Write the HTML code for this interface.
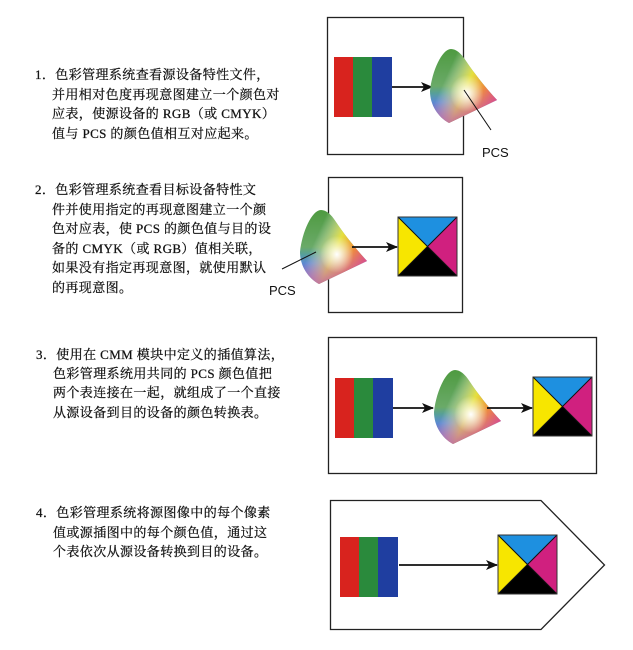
<!DOCTYPE html>
<html><head><meta charset="utf-8"><style>
body{margin:0;width:633px;height:650px;background:#fff;position:relative;overflow:hidden}
.t{position:absolute;font-family:"Liberation Serif","Noto Serif CJK SC",serif;font-size:13px;line-height:16px;color:#111;white-space:nowrap;letter-spacing:0.4px;-webkit-text-stroke:0.25px #111}
svg{position:absolute;left:0;top:0}
</style></head><body>
<div class="t" style="left:35px;top:67px">1．色彩管理系统查看源设备特性文件，</div>
<div class="t" style="left:52px;top:87px">并用相对色度再现意图建立一个颜色对</div>
<div class="t" style="left:52px;top:106px">应表，使源设备的 RGB（或 CMYK）</div>
<div class="t" style="left:52px;top:126px">值与 PCS 的颜色值相互对应起来。</div>

<div class="t" style="left:35px;top:182px">2．色彩管理系统查看目标设备特性文</div>
<div class="t" style="left:52px;top:202px">件并使用指定的再现意图建立一个颜</div>
<div class="t" style="left:52px;top:221px">色对应表，使 PCS 的颜色值与目的设</div>
<div class="t" style="left:52px;top:241px">备的 CMYK（或 RGB）值相关联，</div>
<div class="t" style="left:52px;top:260px">如果没有指定再现意图，就使用默认</div>
<div class="t" style="left:52px;top:280px">的再现意图。</div>

<div class="t" style="left:36px;top:347px">3．使用在 CMM 模块中定义的插值算法，</div>
<div class="t" style="left:53px;top:366px">色彩管理系统用共同的 PCS 颜色值把</div>
<div class="t" style="left:53px;top:385px">两个表连接在一起，就组成了一个直接</div>
<div class="t" style="left:53px;top:405px">从源设备到目的设备的颜色转换表。</div>

<div class="t" style="left:36px;top:505px">4．色彩管理系统将源图像中的每个像素</div>
<div class="t" style="left:53px;top:525px">值或源插图中的每个颜色值，通过这</div>
<div class="t" style="left:53px;top:544px">个表依次从源设备转换到目的设备。</div>

<svg width="633" height="650" viewBox="0 0 633 650">
<defs>
<linearGradient id="gb" x1="0" y1="0" x2="0" y2="1">
<stop offset="0" stop-color="#4e9a40"/><stop offset="0.5" stop-color="#6aaa68"/><stop offset="0.72" stop-color="#3f92d6"/><stop offset="1" stop-color="#5548b0"/></linearGradient>
<linearGradient id="gr" x1="0.25" y1="0.35" x2="1" y2="0.72">
<stop offset="0" stop-color="#fff" stop-opacity="0"/><stop offset="0.4" stop-color="#f4e63a" stop-opacity="0.9"/><stop offset="0.7" stop-color="#ee8a3c"/><stop offset="1" stop-color="#e04078"/></linearGradient>
<radialGradient id="gw" cx="0.55" cy="0.6" r="0.25"><stop offset="0" stop-color="#fff"/><stop offset="1" stop-color="#fff" stop-opacity="0"/></radialGradient>
<linearGradient id="gm" x1="0.5" y1="0.55" x2="0.55" y2="1"><stop offset="0" stop-color="#d070c0" stop-opacity="0"/><stop offset="1" stop-color="#b858b0" stop-opacity="0.8"/></linearGradient>
<path id="gp" d="M21,0 C12,0 2,22 0,42 C0,56 8,68 19,74 L67,51 C55,38 44,24 36,12 C31,4 26,0 21,0 Z"/>
<g id="gam">
<use href="#gp" fill="url(#gb)"/>
<use href="#gp" fill="url(#gr)"/>
<use href="#gp" fill="url(#gm)"/>
<use href="#gp" fill="url(#gw)"/>
</g>
<g id="rgb"><rect x="0" y="0" width="20" height="60" fill="#d8231e"/><rect x="19" y="0" width="20" height="60" fill="#2a8a3c"/><rect x="38" y="0" width="20" height="60" fill="#1f3ea0"/></g>
<g id="cmyk"><rect x="0" y="0" width="59" height="59" fill="#000"/>
<polygon points="0,0 59,0 29.5,29.5" fill="#1e90e0"/><polygon points="59,0 59,59 29.5,29.5" fill="#d0207f"/><polygon points="0,0 0,59 29.5,29.5" fill="#f7e600"/>
<path d="M0,0 L59,59 M59,0 L0,59" stroke="#111" stroke-width="1"/><rect x="0" y="0" width="59" height="59" fill="none" stroke="#333" stroke-width="1"/></g>
<marker id="ar" markerWidth="12" markerHeight="10" refX="11" refY="5" orient="auto" markerUnits="userSpaceOnUse"><path d="M0,0 L12,5 L0,10 L3,5 Z" fill="#111"/></marker>
</defs>

<rect x="327.5" y="17.5" width="136" height="137" fill="none" stroke="#222" stroke-width="1.3"/>
<use href="#rgb" x="334" y="57"/>
<line x1="392" y1="87" x2="432" y2="87" stroke="#111" stroke-width="1.8" marker-end="url(#ar)"/>
<use href="#gam" x="430" y="49"/>
<line x1="464" y1="90" x2="491" y2="130" stroke="#111" stroke-width="1"/>
<text x="482" y="157" font-family="Liberation Sans,sans-serif" font-size="13" fill="#111">PCS</text>

<rect x="328.5" y="177.5" width="134" height="135" fill="none" stroke="#222" stroke-width="1.3"/>
<use href="#gam" x="300" y="210"/>
<line x1="352" y1="247" x2="397" y2="247" stroke="#111" stroke-width="1.8" marker-end="url(#ar)"/>
<use href="#cmyk" x="398" y="217"/>
<line x1="316" y1="252" x2="282" y2="269" stroke="#111" stroke-width="1"/>
<text x="269" y="295" font-family="Liberation Sans,sans-serif" font-size="13" fill="#111">PCS</text>

<rect x="328.5" y="337.5" width="268" height="136" fill="none" stroke="#222" stroke-width="1.3"/>
<use href="#rgb" x="335" y="378"/>
<line x1="393" y1="408" x2="433" y2="408" stroke="#111" stroke-width="1.8" marker-end="url(#ar)"/>
<use href="#gam" x="434" y="370"/>
<line x1="487" y1="408" x2="532" y2="408" stroke="#111" stroke-width="1.8" marker-end="url(#ar)"/>
<use href="#cmyk" x="533" y="377"/>

<polygon points="330.5,500.5 541,500.5 604.5,565 541,629.5 330.5,629.5" fill="none" stroke="#222" stroke-width="1.3"/>
<use href="#rgb" x="340" y="537"/>
<line x1="399" y1="565" x2="497" y2="565" stroke="#111" stroke-width="1.8" marker-end="url(#ar)"/>
<use href="#cmyk" x="498" y="535"/>
</svg>
</body></html>
